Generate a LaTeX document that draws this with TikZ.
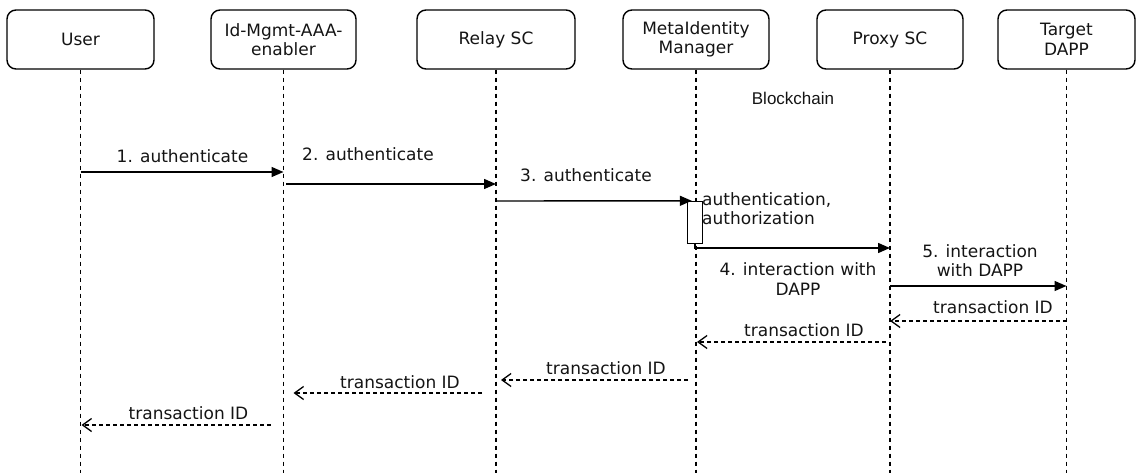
\documentclass[tikz,border=0pt]{standalone}
\usepackage{fontspec}
\setmainfont{DejaVu Sans}
\newfontfamily\chainfont{Liberation Sans}
\usetikzlibrary{arrows.meta}

\begin{document}
\begin{tikzpicture}[x=1pt,y=-1pt,
  every node/.style={font=\fontsize{17}{19.5}\selectfont, text=black!92},
  actor/.style={draw, line width=1.4pt, rounded corners=9pt, minimum height=59pt,
    inner sep=0pt, align=center},
  lifeline/.style={line width=1.3pt, dash pattern=on 4pt off 4pt},
  callmsg/.style={line width=1.4pt, -{Triangle[length=12pt,width=10pt]}},
  retmsg/.style={line width=1.3pt, dash pattern=on 4pt off 3pt,
    -{Straight Barb[length=9pt,width=13pt,line width=1.3pt]}},
  lbl/.style={anchor=base, inner sep=0pt, align=center},
  lbll/.style={anchor=base west, inner sep=0pt, align=left}
]
\useasboundingbox (0,0) rectangle (1136,473);
\coordinate (bottom) at (0,473);

% participants
\node[actor, minimum width=147pt] (user)   at (80.5,39.5)  {User};
\node[actor, minimum width=145pt] (idm)    at (283.5,39.5) {Id-Mgmt-AAA-\\enabler};
\node[actor, minimum width=158pt] (relay)  at (496,39.5)   {Relay SC};
\node[actor, minimum width=146pt] (meta)   at (696,39.5)   {MetaIdentity\\Manager};
\node[actor, minimum width=146pt] (proxy)  at (890,39.5)   {Proxy SC};
\node[actor, minimum width=137pt] (target) at (1066.5,39.5) {Target\\DAPP};

% lifelines
\foreach \p in {user,idm,relay,meta,proxy,target}
  \draw[lifeline] (\p.south) -- (\p.south |- bottom);

\node[font=\chainfont\fontsize{17}{20}\selectfont] (chain) at (793,98) {Blockchain};

% activation on the identity manager
\node[draw, line width=1.4pt, fill=white, minimum width=15pt, minimum height=42pt,
  inner sep=0pt] (act) at (695,222.5) {};

% requests (multi-line labels are anchored on the baseline of their last line)
\draw[callmsg] (user.south |- 0,172) -- (idm.south |- 0,172);
\node[lbl] (l1) at (182.5,163) {1. authenticate};

\draw[callmsg] ([xshift=2.5pt]idm.south |- 0,184) -- (relay.south |- 0,184);
\node[lbl] (l2) at (368,161) {2. authenticate};

\draw[callmsg] (relay.south |- 0,201) -- ([xshift=5pt]act.north west);
\node[lbl] (l3) at (586,182) {3. authenticate};

\node[lbll] (lact) at (702,225) {authentication,\\authorization};

\draw[callmsg] (act.south) |- (proxy.south |- 0,248);
\node[lbl] (l4) at (798,295) {4. interaction with\\DAPP};

\draw[callmsg] (proxy.south |- 0,286) -- (target.south |- 0,286);
\node[lbl] (l5) at (980,277) {5. interaction\\with DAPP};

% responses
\draw[retmsg] (target.south |- 0,321) -- (proxy.south |- 0,321);
\node[lbl] (r1) at (993,314) {transaction ID};

\draw[retmsg] ([xshift=-4pt]proxy.south |- 0,342) -- ([xshift=1pt]meta.south |- 0,342);
\node[lbl] (r2) at (804,336) {transaction ID};

\draw[retmsg] ([xshift=-8pt]meta.south |- 0,380) -- ([xshift=5pt]relay.south |- 0,380);
\node[lbl] (r3) at (606,374) {transaction ID};

\draw[retmsg] ([xshift=-14pt]relay.south |- 0,393) -- ([xshift=10pt]idm.south |- 0,393);
\node[lbl] (r4) at (400,388) {transaction ID};

\draw[retmsg] ([xshift=-13pt]idm.south |- 0,425) -- ([xshift=1pt]user.south |- 0,425);
\node[lbl] (r5) at (188.5,419) {transaction ID};
\end{tikzpicture}
\end{document}
